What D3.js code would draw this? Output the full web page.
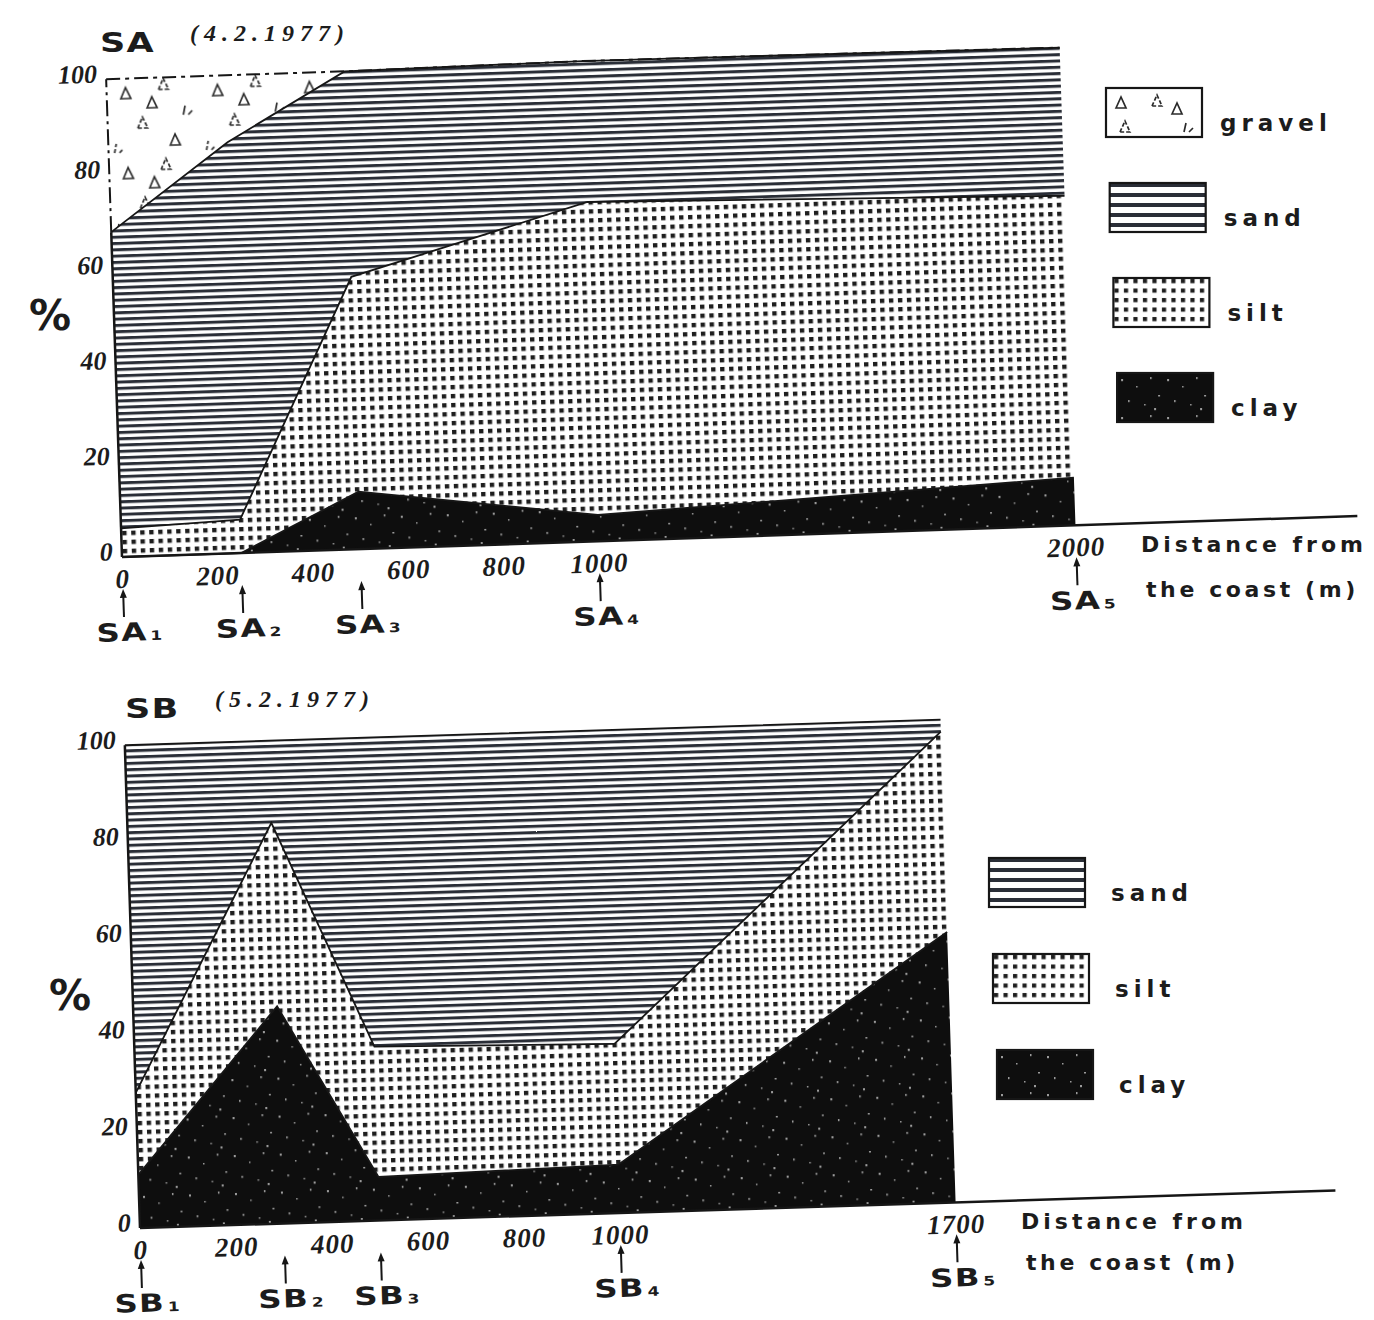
<!DOCTYPE html>
<html>
<head>
<meta charset="utf-8">
<title>SA / SB sediment composition</title>
<script src="https://cdn.jsdelivr.net/npm/d3@7/dist/d3.min.js"></script>
<style>
  body { margin: 0; background: #fff; }
  svg { display: block; }
  .num { font-family: "Liberation Serif", serif; font-style: italic; font-weight: bold; fill: #1c1c1c; }
  .lab { font-family: "DejaVu Sans", sans-serif; font-weight: bold; fill: #1c1c1c; }
</style>
</head>
<body>
<svg id="fig" width="1374" height="1320"></svg>
<script>
// ---------------------------------------------------------------------------
// data (percent of each fraction at each station)
// ---------------------------------------------------------------------------
const saStations = ["SA1", "SA2", "SA3", "SA4", "SA5"];
const saDist     = [0, 250, 500, 1000, 2000];
const saClay     = [0, 0, 12, 5.5, 10];
const saSilt     = [6, 7, 45, 65.5, 59];
const saSand     = [62, 79, 43, 29.5, 31];
const saGravel   = [32, 14, 0, 0, 0];
const saTicks    = [0, 200, 400, 600, 800, 1000, 2000];

const sbStations = ["SB1", "SB2", "SB3", "SB4", "SB5"];
const sbDist     = [0, 300, 500, 1000, 1700];
const sbClay     = [11, 45, 9, 10, 56];
const sbSilt     = [17, 38, 27, 25, 41.5];
const sbSand     = [72, 17, 64, 65, 2.5];
const sbTicks    = [0, 200, 400, 600, 800, 1000, 1700];

const yTicks = [0, 20, 40, 60, 80, 100];

// ---------------------------------------------------------------------------
const svg = d3.select("#fig");
const defs = svg.append("defs");
const ink = "#161616";

// fill patterns -------------------------------------------------------------
function sandPattern(id, step, thick) {
    const p = defs.append("pattern").attr("id", id)
        .attr("patternUnits", "userSpaceOnUse").attr("width", 12).attr("height", step);
    p.append("rect").attr("width", 12).attr("height", step).attr("fill", "#fff");
    p.append("rect").attr("y", 0).attr("width", 12).attr("height", thick).attr("fill", "#2a2e37");
}
function siltPattern(id, step, dot) {
    const p = defs.append("pattern").attr("id", id)
        .attr("patternUnits", "userSpaceOnUse").attr("width", step).attr("height", step);
    p.append("rect").attr("width", step).attr("height", step).attr("fill", "#fff");
    p.append("rect").attr("x", 1).attr("y", 1).attr("width", dot).attr("height", dot).attr("fill", "#1e1e1e");
}
function clayPattern(id) {
    const p = defs.append("pattern").attr("id", id)
        .attr("patternUnits", "userSpaceOnUse").attr("width", 46).attr("height", 38);
    p.append("rect").attr("width", 46).attr("height", 38).attr("fill", "#0e0e0e");
    [[4, 6], [19, 13], [33, 4], [41, 22], [11, 27], [27, 31], [37, 35]].forEach(([sx, sy], i) =>
        p.append("rect").attr("x", sx).attr("y", sy)
            .attr("width", i % 3 ? 1.5 : 2).attr("height", i % 2 ? 1.5 : 2.2)
            .attr("fill", "#d8d8d8").attr("opacity", 0.7));
}
function gravelPattern(id, w, h, marks) {
    const p = defs.append("pattern").attr("id", id)
        .attr("patternUnits", "userSpaceOnUse").attr("width", w).attr("height", h);
    p.append("rect").attr("width", w).attr("height", h).attr("fill", "#fff");
    marks.forEach(([mx, my], i) => {
        p.append("path")
            .attr("d", i % 3 === 2 ? `M${mx},${my} l2,-9 M${mx + 5},${my} l4,-4`
                                   : `M${mx},${my} l5,-11 l5,11 z`)
            .attr("fill", "none").attr("stroke", "#2a2a2a").attr("stroke-width", 1.7)
            .attr("stroke-dasharray", i % 2 ? "4 2" : null);
    });
}
sandPattern("pat-sand", 6.3, 3.0);
siltPattern("pat-silt", 9, 4.4);
clayPattern("pat-clay");
gravelPattern("pat-gravel", 92, 80, [[14, 22], [52, 14], [76, 40], [30, 52], [62, 70], [6, 76], [40, 32]]);
sandPattern("leg-sand", 10, 4);
siltPattern("leg-silt", 9.5, 4.2);
clayPattern("leg-clay");
gravelPattern("leg-gravel", 96, 50, [[10, 20], [46, 18], [78, 44], [14, 44], [66, 26]]);

// one panel -----------------------------------------------------------------
function drawPanel(cfg) {
    const keys = cfg.keys;
    const rows = cfg.dist.map((d, i) => {
        const r = { dist: d, station: cfg.stations[i] };
        keys.forEach(k => r[k] = cfg.values[k][i]);
        return r;
    });

    const x = d3.scaleLinear().domain([0, cfg.dmax]).range([0, cfg.w]);
    const y = d3.scaleLinear().domain([0, 100]).range([0, -cfg.h]);

    // the printed figure is slightly tilted on the page
    const g = svg.append("g")
        .attr("transform", `translate(${cfg.ox},${cfg.oy}) rotate(${cfg.angle})`);

    const series = d3.stack().keys(keys)(rows);

    const area = d3.area()
        .x(d => x(d.data.dist))
        .y0(d => y(d[0]))
        .y1(d => y(d[1]));

    g.selectAll("path.layer")
        .data(series)
        .join("path")
        .attr("class", "layer")
        .attr("d", area)
        .attr("fill", d => `url(#pat-${d.key})`);

    // boundaries between fractions
    const topLine = d3.line().x(d => x(d.data.dist)).y(d => y(d[1]));
    g.selectAll("path.edge")
        .data(series)
        .join("path")
        .attr("class", "edge")
        .attr("d", topLine)
        .attr("fill", "none")
        .attr("stroke", ink)
        .attr("stroke-width", d => d.key === "gravel" ? 2 : 1.8)
        .attr("stroke-dasharray", d => d.key === "gravel" ? "14 5 4 5" : null);

    // left edge: solid up to gravel, dashed through gravel
    const first = series.map(s => s[0]);
    const solidTop = first.filter((s, i) => keys[i] !== "gravel").reduce((m, s) => Math.max(m, s[1]), 0);
    g.append("line").attr("x1", 0).attr("x2", 0).attr("y1", y(0)).attr("y2", y(solidTop))
        .attr("stroke", ink).attr("stroke-width", 2.5);
    if (solidTop < 100) {
        g.append("line").attr("x1", 0).attr("x2", 0).attr("y1", y(solidTop)).attr("y2", y(100))
            .attr("stroke", ink).attr("stroke-width", 2).attr("stroke-dasharray", "16 5 3 5");
    }

    // baseline running on past the last station
    g.append("line").attr("x1", 0).attr("x2", cfg.axisLen).attr("y1", 0).attr("y2", 0)
        .attr("stroke", ink).attr("stroke-width", 2.5);

    // y labels
    g.selectAll("text.ytick")
        .data(yTicks)
        .join("text")
        .attr("class", "ytick num")
        .attr("x", -9)
        .attr("y", d => y(d) + 3)
        .attr("text-anchor", "end")
        .attr("font-size", 26)
        .text(d => d);

    // x labels
    g.selectAll("text.xtick")
        .data(cfg.ticks)
        .join("text")
        .attr("class", "xtick num")
        .attr("x", d => x(d))
        .attr("y", 31)
        .attr("text-anchor", "middle")
        .attr("font-size", 27)
        .attr("letter-spacing", 1)
        .text(d => d);

    // station arrows and names
    const st = g.selectAll("g.station")
        .data(rows)
        .join("g")
        .attr("class", "station")
        .attr("transform", d => `translate(${x(d.dist)},0)`);
    st.append("line").attr("y1", 39).attr("y2", 60)
        .attr("stroke", ink).attr("stroke-width", 2);
    st.append("path").attr("d", "M-3.5,41 L0,32 L3.5,41 Z").attr("fill", ink);
    // the station names are set in a wide grotesque: stretch horizontally
    const name = st.append("text")
        .attr("class", "lab")
        .attr("transform", "translate(-28,84) scale(1.3,1)")
        .attr("font-size", 25)
        .attr("letter-spacing", 1);
    name.append("tspan").text(d => d.station.slice(0, 2));
    name.append("tspan").attr("font-size", 13).attr("dx", 2).text(d => d.station.slice(2));

    // axis caption
    svg.append("text").attr("class", "lab").attr("x", cfg.capX).attr("y", cfg.capY)
        .attr("font-size", 22).attr("letter-spacing", 4).text("Distance from");
    svg.append("text").attr("class", "lab").attr("x", cfg.capX + 5).attr("y", cfg.capY + cfg.capGap)
        .attr("font-size", 22).attr("letter-spacing", 3.6).text("the coast (m)");

    // % sign
    svg.append("text").attr("class", "lab").attr("x", cfg.pctX).attr("y", cfg.pctY)
        .attr("text-anchor", "middle").attr("font-size", 42).attr("font-weight", "normal")
        .text("%");

    // title
    svg.append("text").attr("class", "lab")
        .attr("transform", `translate(${cfg.titleX},${cfg.titleY}) scale(1.35,1)`)
        .attr("font-size", 26).attr("letter-spacing", 1).text(cfg.name);
    svg.append("text").attr("class", "num").attr("x", cfg.titleX + 90).attr("y", cfg.titleY - 11)
        .attr("font-size", 24).attr("font-weight", "normal").attr("letter-spacing", 6).text(cfg.date);

    // legend (top fraction first)
    const legKeys = keys.slice().reverse();
    const leg = svg.selectAll(null)
        .data(legKeys)
        .join("g")
        .attr("transform", (d, i) => `translate(${cfg.legX + i * cfg.legDx},${cfg.legY + i * cfg.legDy})`);
    leg.append("rect")
        .attr("width", 96).attr("height", 49)
        .attr("fill", d => `url(#leg-${d})`)
        .attr("stroke", ink).attr("stroke-width", 2.2);
    leg.append("text")
        .attr("class", "lab")
        .attr("x", cfg.legTextDx)
        .attr("y", 43)
        .attr("font-size", 23)
        .attr("letter-spacing", 5)
        .text(d => d);
}

drawPanel({
    name: "SA", date: "(4.2.1977)",
    stations: saStations, dist: saDist, ticks: saTicks, dmax: 2000,
    keys: ["clay", "silt", "sand", "gravel"],
    values: { clay: saClay, silt: saSilt, sand: saSand, gravel: saGravel },
    ox: 122, oy: 557, angle: -1.9, w: 954, h: 478, axisLen: 1236,
    capX: 1141, capY: 552, capGap: 45,
    pctX: 50, pctY: 330,
    titleX: 100, titleY: 52,
    legX: 1106, legY: 88, legDx: 3.7, legDy: 95, legTextDx: 114
});

drawPanel({
    name: "SB", date: "(5.2.1977)",
    stations: sbStations, dist: sbDist, ticks: sbTicks, dmax: 1700,
    keys: ["clay", "silt", "sand"],
    values: { clay: sbClay, silt: sbSilt, sand: sbSand },
    ox: 140, oy: 1228, angle: -1.8, w: 816, h: 483, axisLen: 1196,
    capX: 1021, capY: 1229, capGap: 41,
    pctX: 70, pctY: 1010,
    titleX: 125, titleY: 718,
    legX: 989, legY: 858, legDx: 4, legDy: 96, legTextDx: 122
});
</script>
</body>
</html>
